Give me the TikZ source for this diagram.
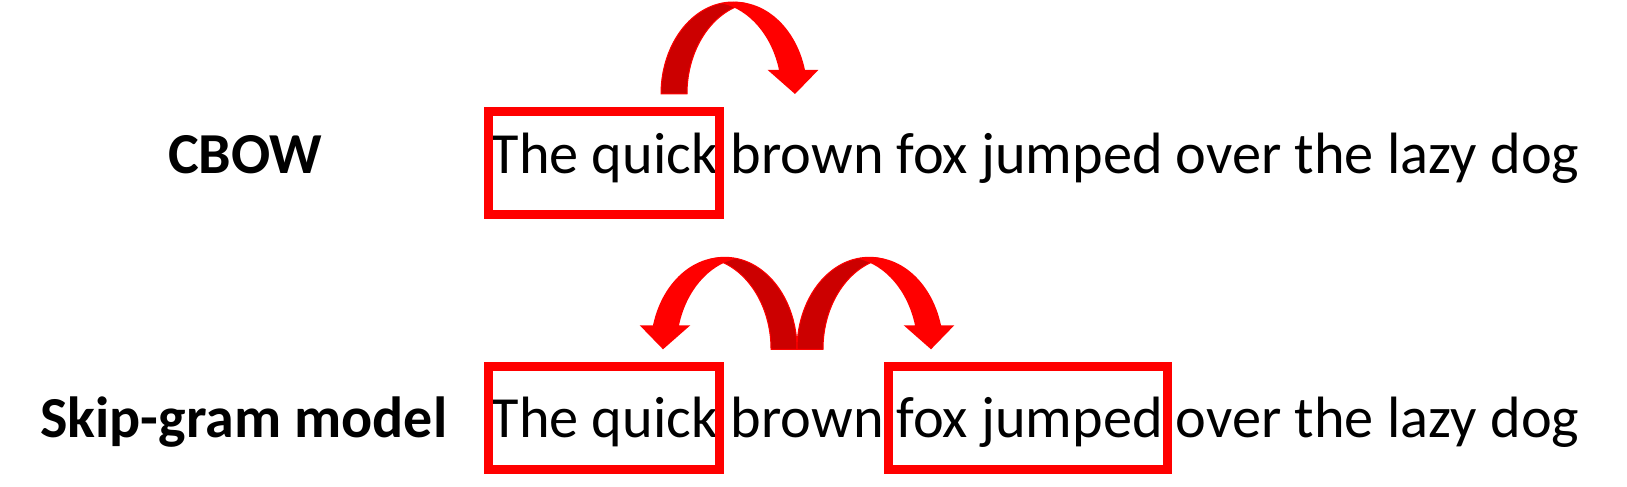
\documentclass[tikz,border=0pt]{standalone}
\usepackage{fontspec}
\setmainfont{Carlito}
\usetikzlibrary{positioning}

\definecolor{boxred}{RGB}{255,0,0}
\definecolor{backred}{RGB}{204,0,0}

\tikzset{
  sentence/.style={anchor=base west, inner sep=0pt, font=\fontsize{58.3}{60}\selectfont},
  modelname/.style={sentence, font=\fontsize{58}{60}\selectfont\bfseries},
  ctxbox/.style={draw=boxred, line width=9pt},
  pics/bentarrow/.style={code={
    % back of the band
    \fill[backred, draw=boxred, line width=1pt] (0,0)
      arc[start angle=180, end angle=79.6, x radius=72, y radius=92]
      arc[start angle=100.4, end angle=180, x radius=72, y radius=92] -- cycle;
    % front of the band and its head
    \fill[boxred] (61.5,90.5)
      arc[start angle=100.4, end angle=15.12, x radius=72, y radius=92]
      -- (157.3,24) -- (134,0) -- (106.7,24) -- (118,24)
      arc[start angle=15.12, end angle=79.6, x radius=72, y radius=92] -- cycle;
  }}
}

\begin{document}
\begin{tikzpicture}[x=1pt, y=1pt]
  \useasboundingbox (0,0) rectangle (1627,487);

  % Labels
  \node[modelname] (cbow) at (168,313) {CBOW};
  \node[modelname] (skip) at (40,49) {Skip-gram model};

  % Sentences
  \node[sentence] (cbowtext) at (490.5,313.7) {The quick brown fox jumped over the lazy dog};
  \node[sentence] (skiptext) at (490.5,49.7) {The quick brown fox jumped over the lazy dog};

  % Boxes
  \draw[ctxbox] (488.5,272.5) rectangle (719.5,375.7);
  \draw[ctxbox] (488.5,17.5) rectangle (719.5,120.2);
  \draw[ctxbox] (888.5,17.5) rectangle (1167.2,120.2);

  % Arrows
  \pic (cbowarrow) at (661,393) {bentarrow};
  \pic[xscale=-1] (leftarrow) at (797,137.7) {bentarrow};
  \pic (rightarrow) at (797,137.7) {bentarrow};

\end{tikzpicture}
\end{document}
